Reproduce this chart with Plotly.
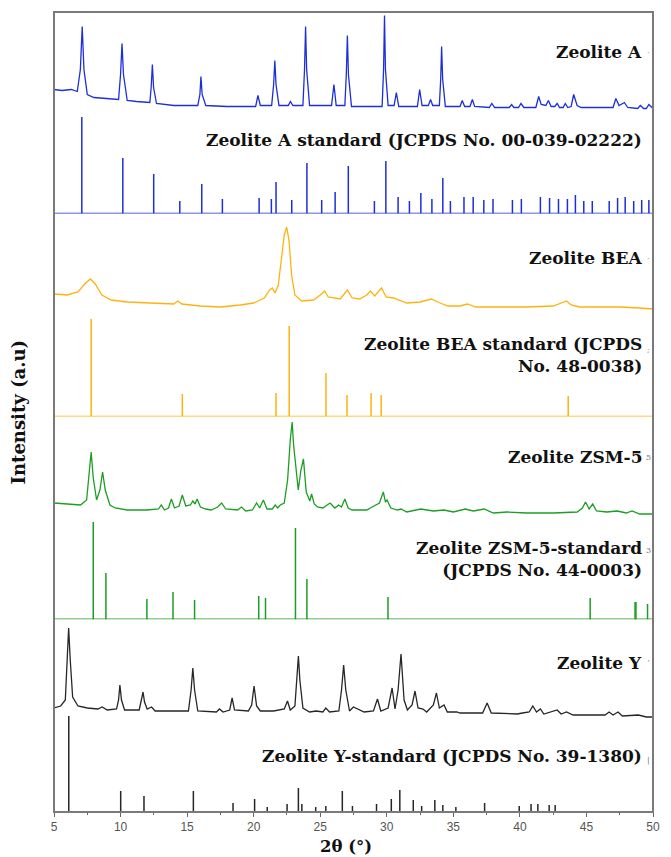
import plotly.graph_objects as go

# ---------------- DATA (2theta in degrees, intensity in a.u.) ----------------
# Zeolite A measured pattern (vertices of the trace)
A_X = [5.0, 5.6, 6.3, 6.75, 6.98, 7.12, 7.25, 7.5, 8.0, 9.0, 9.85, 10.0, 10.11, 10.22, 10.5, 11.2, 12.2, 12.3, 12.39, 12.48,
       12.7, 14.0, 15.8, 15.96, 16.04, 16.13, 16.4, 18.0, 20.15, 20.32, 20.5, 21.35, 21.5, 21.59, 21.68, 21.9, 22.6, 22.76,
       22.95, 23.7, 23.82, 23.9, 23.98, 24.2, 25.85, 26.03, 26.2, 26.85, 26.96, 27.04, 27.12, 27.35, 29.65, 29.76, 29.83,
       29.9, 30.1, 30.55, 30.72, 30.9, 32.3, 32.47, 32.65, 33.12, 33.29, 33.45, 33.95, 34.05, 34.12, 34.2, 34.4, 35.5, 35.67,
       35.85, 36.25, 36.43, 36.6, 37.7, 37.89, 38.1, 39.2, 39.38, 39.55, 39.9, 40.08, 40.3, 41.2, 41.41, 41.6, 41.95, 42.14,
       42.35, 42.62, 42.8, 42.98, 43.25, 43.41, 43.6, 43.85, 44.04, 44.3, 44.6, 45.5, 47.0, 47.21, 47.45, 47.85, 48.1, 48.85,
       49.05, 49.3, 49.5, 49.69, 50.0]
A_Y = [124, 123, 124, 122, 144, 187, 144, 119, 116, 115, 114, 139, 170, 139, 113, 112, 111, 126, 149, 126,
       110, 108, 108, 119, 137, 119, 108, 107, 107, 118, 108, 108, 129, 153, 129, 108, 108, 112,
       108, 108, 144, 187, 144, 108, 108, 129, 108, 108, 139, 178, 139, 107, 107, 144, 198,
       144, 108, 108, 121, 107, 107, 124, 108, 108, 114, 108, 108, 134, 167, 134, 107, 107, 113,
       107, 107, 114, 107, 106, 110, 106, 106, 109, 106, 106, 110, 106, 106, 117, 109, 108, 113,
       107, 107, 110, 106, 106, 110, 106, 107, 119, 108, 106, 106, 106, 115, 108, 111, 106, 105,
       108, 105, 105, 109, 105]

# Zeolite A standard (JCPDS No. 00-039-02222) stick pattern
A_STD_X = [7.09, 10.17, 12.49, 14.45, 16.1, 17.65, 20.41, 21.33, 21.68, 22.86, 24.0, 25.11, 26.12, 27.11, 29.07, 29.93,
           30.85, 31.7, 32.56, 33.39, 34.21, 34.78, 35.8, 36.49, 37.29, 37.98, 39.44, 40.11, 41.54, 42.23, 42.9, 43.57,
           44.17, 44.8, 45.44, 46.71, 47.34, 47.91, 48.55, 49.15, 49.69]
A_STD_I = [96.5, 55.5, 39.5, 12.5, 29.5, 14.5, 15.5, 14.5, 31.5, 13.5, 50.5, 13.5, 21.5, 47.5, 12.5, 52.5,
           16.5, 12.5, 20.5, 14.5, 35.5, 12.5, 16.5, 16.5, 13.5, 14.5, 13.5, 14.5, 16.5, 15.5, 14.5, 14.5,
           18.5, 12.5, 12.5, 12.5, 15.5, 16.5, 12.5, 13.5, 13.5]

# Zeolite BEA measured pattern
BEA_X = [5.0, 6.0, 6.8, 7.3, 7.73, 8.1, 8.6, 9.3, 10.5, 12.0, 14.0, 14.3, 14.6, 16.0, 17.5, 19.0, 20.0, 20.8, 21.2, 21.4,
         21.6, 21.85, 22.1, 22.3, 22.48, 22.65, 22.85, 23.1, 23.6, 24.5, 25.1, 25.33, 25.6, 26.06, 26.5, 27.04, 27.4,
         27.96, 28.5, 28.76, 29.1, 29.6, 29.95, 30.5, 31.5, 32.5, 33.35, 34.0, 34.6, 35.5, 36.05, 36.7, 38.0, 39.06,
         40.5, 42.5, 43.2, 43.5, 43.85, 44.5, 46.0, 47.5, 49.0, 50.0]
BEA_Y = [122.5, 121.5, 124.5, 132.5, 137.5, 132.5, 121.5, 116.5, 114.5, 113.5, 112.5, 115.5, 112.5, 110.5, 109.5,
         111.5, 113.5, 118.5, 126.5, 128.5, 123.5, 131.5, 156.5, 181.5, 189.5, 176.5, 141.5, 121.5, 115.5, 116.5,
         122.5, 125.5, 119.5, 118.5, 117.5, 126.5, 118.5, 117.5, 121.5, 125.5, 120.5, 128.5, 119.5, 118.5, 113.5,
         114.5, 117.5, 113.5, 110.5, 110.5, 112.5, 109.5, 109.5, 109.5, 109.5, 110.5, 113.5, 115.5, 111.5, 109.5,
         109.5, 109.5, 108.5, 107.5]

# Zeolite BEA standard (JCPDS No. 48-0038)
BEA_STD_X = [7.79, 14.64, 21.68, 22.67, 25.43, 27.01, 28.82, 29.58, 43.63]
BEA_STD_I = [97.5, 22.5, 23.5, 90.5, 43.5, 21.5, 23.5, 21.5, 20.5]

# Zeolite ZSM-5 measured pattern
ZSM_X = [5.0, 6.0, 7.0, 7.45, 7.65, 7.79, 7.95, 8.2, 8.45, 8.65, 8.85, 9.2, 9.6, 10.5, 12.0, 12.85, 13.06, 13.3, 13.6,
         13.82, 14.05, 14.4, 14.64, 14.9, 15.25, 15.43, 15.6, 15.75, 16.0, 16.39, 16.8, 17.3, 17.59, 17.9, 18.8, 19.08,
         19.4, 19.9, 20.22, 20.45, 20.73, 21.0, 21.4, 21.62, 21.8, 22.0, 22.3, 22.55, 22.75, 22.89, 23.0, 23.14, 23.35,
         23.55, 23.74, 23.95, 24.09, 24.22, 24.35, 24.55, 24.8, 25.2, 25.74, 26.1, 26.38, 26.6, 26.85, 27.1, 27.4, 28.5,
         28.9, 29.17, 29.45, 29.74, 29.9, 30.02, 30.3, 30.8, 31.07, 31.5, 32.56, 33.5, 34.3, 35.0, 35.89, 36.5, 37.32,
         38.0, 39.06, 40.5, 42.5, 44.3, 44.7, 44.93, 45.2, 45.47, 45.75, 46.52, 47.31, 48.0, 48.42, 49.0, 50.0]
ZSM_Y = [116.5, 115.5, 114.5, 119.5, 149.5, 167.5, 141.5, 119.5, 129.5, 147.5, 129.5, 114.5, 111.5, 109.5, 109.5,
         110.5, 114.5, 109.5, 111.5, 120.5, 111.5, 113.5, 124.5, 113.5, 114.5, 118.5, 115.5, 120.5, 112.5, 110.5,
         109.5, 112.5, 116.5, 110.5, 109.5, 112.5, 108.5, 109.5, 116.5, 111.5, 119.5, 110.5, 110.5, 114.5, 111.5,
         114.5, 116.5, 139.5, 179.5, 197.5, 174.5, 157.5, 129.5, 149.5, 160.5, 127.5, 122.5, 118.5, 125.5, 115.5,
         112.5, 111.5, 116.5, 111.5, 114.5, 112.5, 120.5, 111.5, 109.5, 109.5, 112.5, 114.5, 116.5, 127.5, 117.5,
         119.5, 111.5, 109.5, 110.5, 107.5, 110.5, 108.5, 109.5, 107.5, 110.5, 108.5, 110.5, 106.5, 107.5, 106.5,
         106.5, 107.5, 111.5, 117.5, 110.5, 115.5, 108.5, 107.5, 108.5, 106.5, 108.5, 105.5, 105.5]

# Zeolite ZSM-5 standard (JCPDS No. 44-0003)
ZSM_STD_X = [7.95, 8.9, 11.98, 13.94, 15.56, 20.38, 20.89, 23.14, 24.0, 30.09, 45.28, 48.65, 48.72, 49.59]
ZSM_STD_I = [97.5, 46.5, 20.5, 27.5, 19.5, 23.5, 21.5, 91.5, 40.5, 22.5, 21.5, 17.5, 17.5, 15.5]

# Zeolite Y measured pattern
Y_X = [5.0, 5.5, 5.85, 5.98, 6.1, 6.22, 6.4, 6.8, 7.5, 8.3, 8.62, 9.0, 9.7, 9.85, 9.95, 10.07, 10.3, 11.4, 11.58, 11.69,
       11.8, 12.0, 12.33, 12.6, 15.1, 15.3, 15.43, 15.56, 15.8, 17.2, 17.43, 17.7, 18.2, 18.38, 18.56, 19.6, 19.85, 20.03,
       20.22, 20.5, 21.5, 22.3, 22.54, 22.75, 23.1, 23.25, 23.36, 23.47, 23.7, 24.2, 24.7, 25.2, 25.42, 25.7, 26.4, 26.6,
       26.76, 26.92, 27.2, 27.49, 27.8, 28.3, 29.0, 29.3, 29.55, 30.1, 30.4, 30.62, 30.85, 31.07, 31.3, 31.55, 31.9,
       32.12, 32.35, 32.72, 33.0, 33.5, 33.73, 33.95, 34.3, 34.55, 35.26, 35.5, 37.2, 37.54, 37.85, 39.8, 40.2, 40.7,
       40.97, 41.25, 41.54, 41.8, 42.8, 43.1, 43.5, 44.0, 46.4, 46.7, 47.0, 47.37, 47.7, 48.9, 49.5, 50.0]
Y_Y = [104, 106, 112, 152, 184, 152, 115, 106, 104, 103, 105, 102, 103, 112, 127, 112, 102, 102, 112, 120,
       110, 103, 105, 101, 101, 122, 144, 122, 101, 100, 103, 100, 102, 114, 102, 101, 107, 126,
       106, 101, 101, 103, 111, 102, 106, 132, 156, 132, 104, 100, 101, 100, 104, 100, 101, 122,
       147, 122, 101, 105, 103, 100, 101, 113, 101, 104, 124, 103, 122, 158, 112, 102, 107,
       121, 104, 103, 100, 107, 119, 104, 107, 100, 100, 99, 99, 109, 99, 98, 99, 100,
       106, 100, 103, 98, 102, 98, 100, 97, 97, 100, 97, 100, 96, 97, 95, 95]

# Zeolite Y standard (JCPDS No. 39-1380)
Y_STD_X = [6.11, 10.01, 11.76, 15.47, 18.45, 20.07, 21.02, 22.51, 23.36, 23.62, 24.66, 25.42, 26.66, 27.42, 29.23,
           30.34, 30.98, 31.99, 32.62, 33.61, 34.21, 35.19, 37.35, 39.95, 40.84, 41.35, 42.2, 42.65]
Y_STD_I = [96, 21, 16, 21, 9, 13, 5, 8, 24, 8, 5, 6, 21, 6, 8, 13, 22, 12, 6, 12, 7, 5, 9, 6, 8, 8, 7, 7]

LABELS = ["Zeolite A", "Zeolite A standard (JCPDS No. 00-039-02222)",
          "Zeolite BEA", "Zeolite BEA standard (JCPDS<br>No. 48-0038)",
          "Zeolite ZSM-5", "Zeolite ZSM-5-standard<br>(JCPDS No. 44-0003)",
          "Zeolite Y", "Zeolite Y-standard (JCPDS No. 39-1380)"]
X_TICKS = [5, 10, 15, 20, 25, 30, 35, 40, 45, 50]

# ---------------- LAYOUT HELPERS ----------------
W, H = 671, 857
ML, MR, MT, MB = 54, 11, 12, 45
PW, PH = W - ML - MR, H - MT - MB
SERIF = "DejaVu Serif"


def py(px):  # pixel row -> paper y
    return (H - MB - px) / PH


def pxx(px):  # pixel column -> paper x
    return (px - ML) / PW


def sticks(xs, hs):
    sx, sy = [], []
    for x, h in zip(xs, hs):
        sx += [x, x, None]
        sy += [0, h, None]
    return sx, sy


BLUE = "#1c2fd8"
ORANGE = "#ffb20f"
GREEN = "#1c9e24"
BLACK = "#262626"

groups = [
    # axis id, curve x, curve y, std x, std I, colour, baseline pixel row, top pixel row
    ("y4", A_X, A_Y, A_STD_X, A_STD_I, BLUE, 213.5, 12),
    ("y3", BEA_X, BEA_Y, BEA_STD_X, BEA_STD_I, ORANGE, 416.5, 213.5),
    ("y2", ZSM_X, ZSM_Y, ZSM_STD_X, ZSM_STD_I, GREEN, 619.5, 416.5),
    ("y", Y_X, Y_Y, Y_STD_X, Y_STD_I, BLACK, 812, 619.5),
]

fig = go.Figure()
layout_axes = {}
shapes = []
for ax, cx, cy, sx_, si, col, base_px, top_px in groups:
    fig.add_trace(go.Scatter(x=cx, y=cy, mode="lines", xaxis="x", yaxis=ax,
                             line=dict(color=col, width=1.3), showlegend=False, hoverinfo="skip"))
    sx, sy = sticks(sx_, si)
    fig.add_trace(go.Scatter(x=sx, y=sy, mode="lines", xaxis="x", yaxis=ax,
                             line=dict(color=col, width=1.5), showlegend=False, hoverinfo="skip"))
    name = "yaxis" if ax == "y" else "yaxis" + ax[1:]
    layout_axes[name] = dict(domain=[py(base_px), py(top_px)], range=[0, base_px - top_px],
                             visible=False, fixedrange=True)
    if ax != "y":
        lc = "#8fd08f" if ax == "y2" else col
        lw = 3 if ax == "y2" else 1.5
        shapes.append(dict(type="line", xref="paper", x0=0, x1=1, yref=ax, y0=0, y1=0,
                           line=dict(color=lc, width=lw), layer="below"))

# frame
shapes.append(dict(type="rect", xref="paper", yref="paper", x0=0, x1=1, y0=0, y1=1,
                   line=dict(color="#7a7a7a", width=2)))

# labels
label_rows = [52, 140, 258, 355, 457, 559, 663, 756]
ann = []
for txt, row in zip(LABELS, label_rows):
    ann.append(dict(text="<b>" + txt.replace("<br>", "</b><br><b>") + "</b>", xref="paper", yref="paper",
                    x=pxx(651), y=py(row), xanchor="right", yanchor="middle", align="right", showarrow=False,
                    font=dict(family=SERIF, size=17, color="#111")))

# cropped marks at right edge of original figure
for ch, row in zip(["·", "·", ";", "5", "3", "ʼ", "|"], [52, 258, 349, 457, 550, 663, 760]):
    ann.append(dict(text=ch, xref="paper", yref="paper", x=pxx(655), y=py(row), xanchor="center",
                    yanchor="middle", showarrow=False, font=dict(family=SERIF, size=8, color="#777")))

ann.append(dict(text="<b>Intensity (a.u)</b>", xref="paper", yref="paper", x=pxx(18), y=py(412),
                textangle=-90, showarrow=False, xanchor="center", yanchor="middle",
                font=dict(family=SERIF, size=18, color="#111")))
ann.append(dict(text="<b>2θ (°)</b>", xref="paper", yref="paper", x=pxx(349), y=py(846),
                showarrow=False, xanchor="center", yanchor="middle",
                font=dict(family=SERIF, size=16.5, color="#111")))

fig.update_layout(
    width=W, height=H, margin=dict(l=ML, r=MR, t=MT, b=MB),
    paper_bgcolor="white", plot_bgcolor="white",
    xaxis=dict(range=[5, 50], anchor="y", tickvals=X_TICKS, ticks="outside", ticklen=4, tickwidth=1,
               tickcolor="#666", showline=False, showgrid=False, zeroline=False,
               tickfont=dict(family="Liberation Sans", size=12, color="#555"),
               minor=dict(tickvals=[7.5, 12.5, 17.5, 22.5, 27.5, 32.5, 37.5, 42.5, 47.5], ticks="outside",
                          ticklen=2, tickcolor="#666")),
    shapes=shapes, annotations=ann,
    **layout_axes,
)

fig.write_html("out.html")
